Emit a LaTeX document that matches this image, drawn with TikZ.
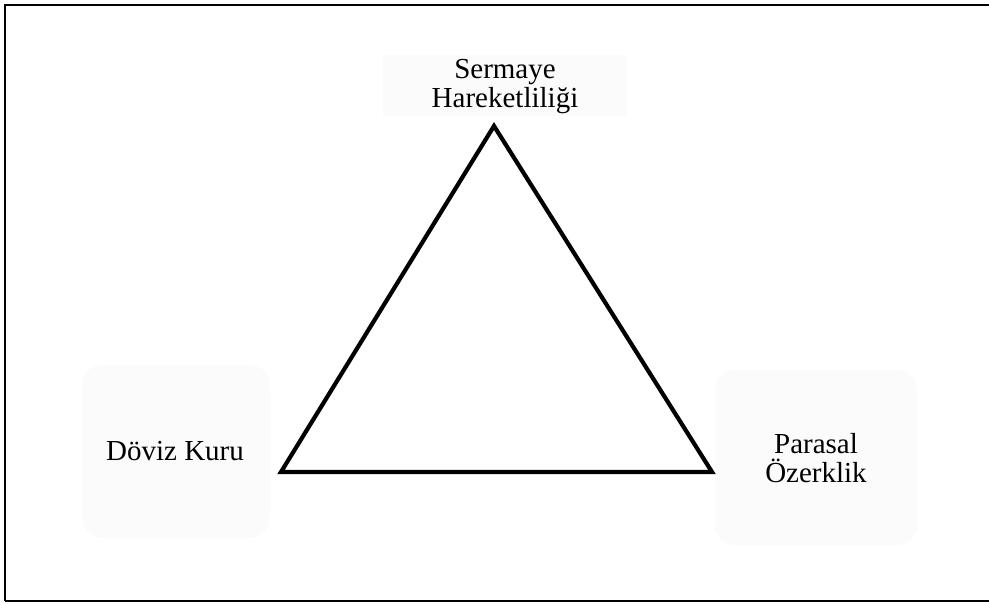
\documentclass[tikz,border=0pt]{standalone}
\usepackage{fontspec}
\setmainfont{Liberation Serif}
\begin{document}
\begin{tikzpicture}[x=1pt,y=-1pt,
  faint/.style={fill=black!1.5,draw=none},
  lbl/.style={inner sep=0pt,align=center,font=\fontsize{29}{29}\selectfont},
  tri/.style={line width=4.2pt,line join=miter}]
\useasboundingbox (0,0) rectangle (989,604);
% frame
\draw[line width=2pt] (5,601) -- (5,5) -- (995,5);
\draw[line width=2pt] (5,601) -- (995,601);
% faint backgrounds
\fill[faint] (383,55) rectangle (627,116);
\fill[faint,rounded corners=20pt] (82,365) rectangle (270,538);
\fill[faint,rounded corners=20pt] (715,370) rectangle (917,545);
% triangle
\coordinate (top) at (494,126);
\coordinate (bl) at (281,472);
\coordinate (br) at (712,472);
\draw[tri] (top) -- (bl) -- (br) -- cycle;
% labels
\node[lbl] (sermaye) at (505,87) {Sermaye\\Hareketliliği};
\node[lbl] (doviz) at (175,451) {Döviz Kuru};
\node[lbl] (parasal) at (816,458) {Parasal\\Özerklik};
\end{tikzpicture}
\end{document}
